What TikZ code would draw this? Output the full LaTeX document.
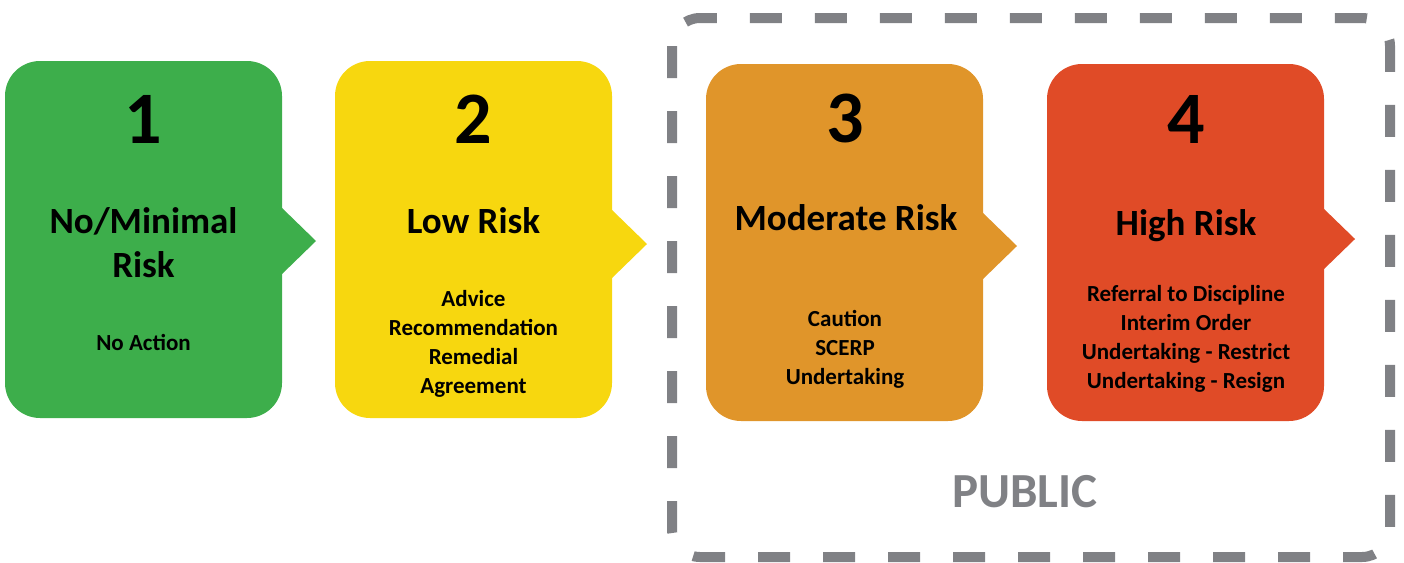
\documentclass[tikz,border=0pt]{standalone}
\usepackage{fontspec}
\setmainfont{Carlito}
\definecolor{cgreen}{HTML}{3DAE4B}
\definecolor{cyellow}{HTML}{F7D70F}
\definecolor{corange}{HTML}{E0952A}
\definecolor{cred}{HTML}{E04B27}
\definecolor{cgray}{HTML}{808185}
\tikzset{
  riskbox/.style={rounded corners=35pt, inner sep=0pt, minimum width=277pt, minimum height=357pt},
  numtext/.style={anchor=base, font=\bfseries\fontsize{74}{74}\selectfont, inner sep=0pt},
  titletext/.style={anchor=base, align=center, font=\bfseries\fontsize{37}{44}\selectfont, inner sep=0pt},
  bodytext/.style={anchor=base, align=center, font=\bfseries\fontsize{23}{28.7}\selectfont, inner sep=0pt},
  publicframe/.style={draw=cgray, line width=10pt, dash pattern=on 32pt off 33pt, rounded corners=28pt}
}
\begin{document}
\begin{tikzpicture}[x=1pt,y=-1pt]
\useasboundingbox (0,0) rectangle (1404,562);
% dashed public frame
\draw[publicframe] (672,18) rectangle (1390,557);
\node[anchor=base, text=cgray, font=\bfseries\fontsize{49}{49}\selectfont, inner sep=0pt] (public) at (1025,507) {PUBLIC};
% boxes
\node[riskbox, fill=cgreen] (b1) at (143.5,239.5) {};
\fill[cgreen] (281,207) -- (316,241) -- (281,275) -- cycle;
\node[riskbox, fill=cyellow] (b2) at (473.5,239.5) {};
\fill[cyellow] (611,209) -- (647,244) -- (611,279) -- cycle;
\node[riskbox, fill=corange] (b3) at (844.5,242.5) {};
\fill[corange] (982,212) -- (1017,246) -- (982,280) -- cycle;
\node[riskbox, fill=cred] (b4) at (1185.5,242.5) {};
\fill[cred] (1323,208) -- (1355,239) -- (1323,270) -- cycle;
% box 1
\node[numtext] (n1) at (143.5,143) {1};
\node[titletext] (t1) at (143.5,277) {No/Minimal\\Risk};
\node[bodytext] (d1) at (143.5,350) {No Action};
% box 2
\node[numtext] (n2) at (473.5,143) {2};
\node[titletext] (t2) at (473.5,233) {Low Risk};
\node[bodytext] (d2) at (473.5,393) {Advice\\Recommendation\\Remedial\\Agreement};
% box 3
\node[numtext] (n3) at (845,142) {3};
\node[titletext] (t3) at (846,230) {Moderate Risk};
\node[bodytext] (d3) at (845,384) {Caution\\SCERP\\Undertaking};
% box 4
\node[numtext] (n4) at (1186,143) {4};
\node[titletext] (t4) at (1186,235) {High Risk};
\node[bodytext] (d4) at (1186,388) {Referral to Discipline\\Interim Order\\Undertaking - Restrict\\Undertaking - Resign};
\end{tikzpicture}
\end{document}
